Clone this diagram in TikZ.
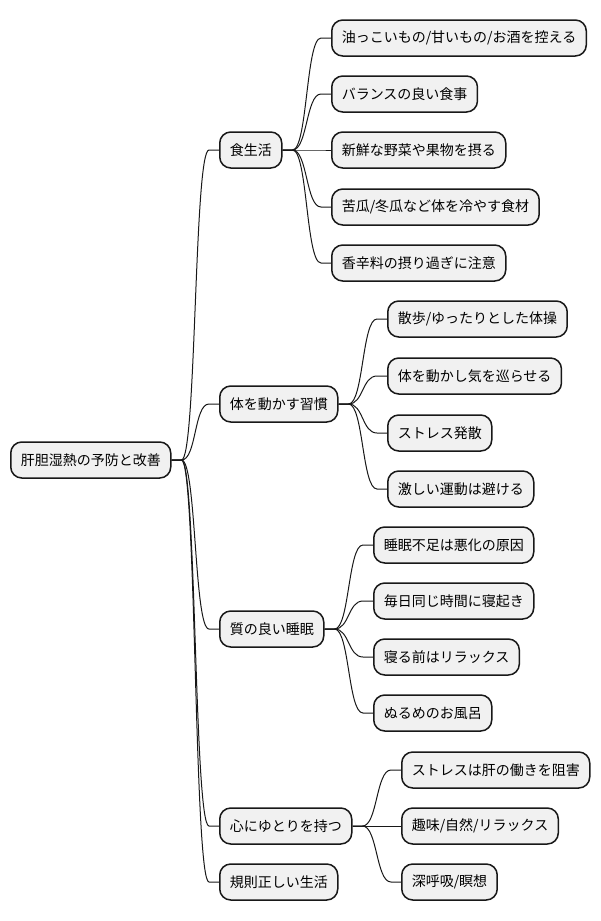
\documentclass[tikz,border=0pt]{standalone}
\usepackage{fontspec}
\setmainfont{Noto Sans CJK JP}
\usetikzlibrary{positioning}
\definecolor{boxfill}{HTML}{F1F1F1}
\definecolor{boxline}{HTML}{181818}
\tikzset{
  topic/.style={draw=boxline, fill=boxfill, line width=1.5pt, rounded corners=11pt,
    minimum height=36pt, inner xsep=10pt, anchor=west, font=\fontsize{14}{16}\selectfont},
  branch/.style={draw=boxline, line width=1pt}
}
\begin{document}
\begin{tikzpicture}[x=1pt, y=-1pt]
    \useasboundingbox (0,0) rectangle (600,921);

    % root
    \node[topic] (Root) at (10,460) {肝胆湿熱の予防と改善};

    % first level
    \node[topic] (Diet)     at (219,150) {食生活};
    \node[topic] (Exercise) at (219,404) {体を動かす習慣};
    \node[topic] (Sleep)    at (219,629) {質の良い睡眠};
    \node[topic] (Mind)     at (219,826) {心にゆとりを持つ};
    \node[topic] (Routine)  at (219,882) {規則正しい生活};

    % diet
    \node[topic] (Diet1) at (331,38)  {油っこいもの/甘いもの/お酒を控える};
    \node[topic] (Diet2) at (331,94)  {バランスの良い食事};
    \node[topic] (Diet3) at (331,150) {新鮮な野菜や果物を摂る};
    \node[topic] (Diet4) at (331,207) {苦瓜/冬瓜など体を冷やす食材};
    \node[topic] (Diet5) at (331,263) {香辛料の摂り過ぎに注意};

    % exercise
    \node[topic] (Exercise1) at (387,319) {散歩/ゆったりとした体操};
    \node[topic] (Exercise2) at (387,376) {体を動かし気を巡らせる};
    \node[topic] (Exercise3) at (387,433) {ストレス発散};
    \node[topic] (Exercise4) at (387,489) {激しい運動は避ける};

    % sleep
    \node[topic] (Sleep1) at (373,545) {睡眠不足は悪化の原因};
    \node[topic] (Sleep2) at (373,601) {毎日同じ時間に寝起き};
    \node[topic] (Sleep3) at (373,657) {寝る前はリラックス};
    \node[topic] (Sleep4) at (373,713) {ぬるめのお風呂};

    % mind
    \node[topic] (Mind1) at (401,770) {ストレスは肝の働きを阻害};
    \node[topic] (Mind2) at (401,826) {趣味/自然/リラックス};
    \node[topic] (Mind3) at (401,882) {深呼吸/瞑想};

    % connectors
    \foreach \parent/\kids in {Root/{Diet,Exercise,Sleep,Mind,Routine},
        Diet/{Diet1,Diet2,Diet3,Diet4,Diet5},
        Exercise/{Exercise1,Exercise2,Exercise3,Exercise4},
        Sleep/{Sleep1,Sleep2,Sleep3,Sleep4},
        Mind/{Mind1,Mind2,Mind3}}
      \foreach \kid in \kids
        \draw[branch] (\parent.east) -- ++(10,0)
          .. controls +(15,0) and +(-15,0) .. ([xshift=-10pt]\kid.west) -- (\kid.west);
\end{tikzpicture}
\end{document}
